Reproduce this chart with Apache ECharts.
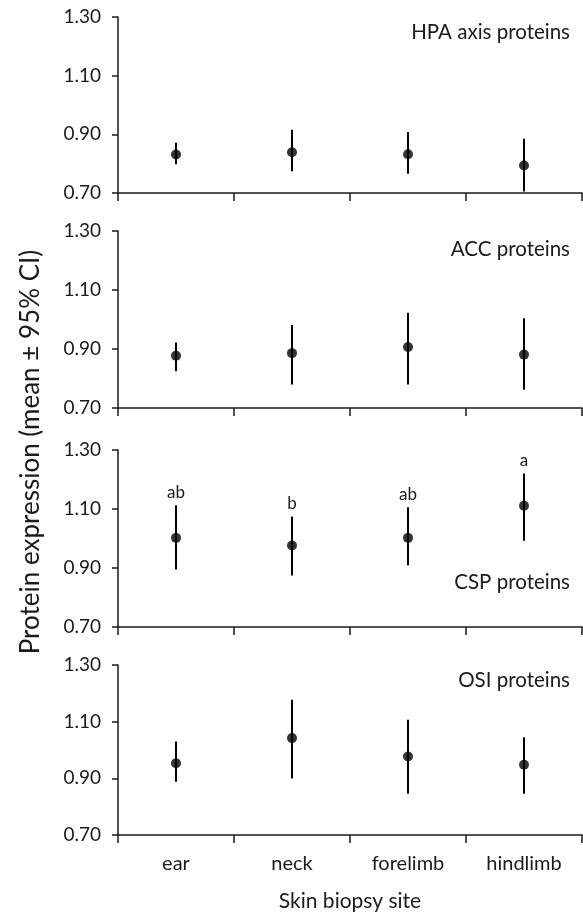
<!DOCTYPE html>
<html>
<head>
<meta charset="utf-8">
<script src="https://cdn.jsdelivr.net/npm/echarts@6/dist/echarts.min.js"></script>
<style>
html, body { margin: 0; padding: 0; background: #fff; }
#main { width: 583px; height: 913px; }
</style>
</head>
<body>
<div id="main"></div>
<script>
// sites on the x axis
var sites = ['ear', 'neck', 'forelimb', 'hindlimb'];
var yTicks = [0.70, 0.90, 1.10, 1.30];

// HPA axis proteins
var hpaMean = [0.831, 0.839, 0.832, 0.794];
var hpaLow = [0.798, 0.774, 0.766, 0.705];
var hpaHigh = [0.871, 0.916, 0.908, 0.885];
// ACC proteins
var accMean = [0.877, 0.886, 0.907, 0.881];
var accLow = [0.825, 0.780, 0.780, 0.762];
var accHigh = [0.922, 0.981, 1.023, 1.004];
// CSP proteins
var cspMean = [1.002, 0.976, 1.002, 1.111];
var cspLow = [0.895, 0.875, 0.909, 0.992];
var cspHigh = [1.113, 1.075, 1.106, 1.220];
var cspLetters = ['ab', 'b', 'ab', 'a'];
// OSI proteins
var osiMean = [0.953, 1.042, 0.977, 0.948];
var osiLow = [0.888, 0.899, 0.846, 0.846];
var osiHigh = [1.030, 1.177, 1.107, 1.045];

var panelNames = ['HPA axis proteins', 'ACC proteins', 'CSP proteins', 'OSI proteins'];
var panels = [
    {mean: hpaMean, low: hpaLow, high: hpaHigh, letters: null},
    {mean: accMean, low: accLow, high: accHigh, letters: null},
    {mean: cspMean, low: cspLow, high: cspHigh, letters: cspLetters},
    {mean: osiMean, low: osiLow, high: osiHigh, letters: null}
];

var FONT = 'Lato';
var INK = '#1a1a1a';
var gridTops = [17, 231, 450, 665];
var gridHeights = [176, 177, 177, 176];
var titleY = [34, 251, 584, 682];

var chart = echarts.init(document.getElementById('main'));

var grids = [], xAxes = [], yAxes = [], series = [], graphics = [];

for (var i = 0; i < 4; i++) {
    grids.push({left: 118, right: 1, top: gridTops[i], height: gridHeights[i]});
    var last = (i === 3);
    xAxes.push({
        type: 'category',
        gridIndex: i,
        data: sites,
        boundaryGap: true,
        axisLine: {lineStyle: {color: INK, width: 1.5}},
        axisTick: {show: true, length: 8, lineStyle: {color: INK, width: 1.5}},
        axisLabel: {show: last, color: INK, fontFamily: FONT, fontSize: 20, margin: 19},
        splitLine: {show: false},
        name: last ? 'Skin biopsy site' : '',
        nameLocation: 'middle',
        nameGap: 56,
        nameTextStyle: {color: INK, fontFamily: FONT, fontSize: 21}
    });
    yAxes.push({
        type: 'value',
        gridIndex: i,
        min: yTicks[0],
        max: yTicks[yTicks.length - 1],
        interval: 0.2,
        axisLine: {show: true, lineStyle: {color: INK, width: 1.5}},
        axisTick: {show: true, length: 6, lineStyle: {color: INK, width: 1.5}},
        axisLabel: {
            color: INK, fontFamily: FONT, fontSize: 19, margin: 17,
            formatter: function (v) { return v.toFixed(2); }
        },
        splitLine: {show: false}
    });

    var p = panels[i];
    var barData = [];
    for (var j = 0; j < sites.length; j++) {
        barData.push([j, p.low[j], p.high[j], p.letters ? p.letters[j] : '']);
    }
    // 95% CI bars (and letters above them)
    series.push({
        type: 'custom',
        xAxisIndex: i,
        yAxisIndex: i,
        data: barData,
        renderItem: function (params, api) {
            var lo = api.coord([api.value(0), api.value(1)]);
            var hi = api.coord([api.value(0), api.value(2)]);
            var letter = api.value(3);
            var children = [{
                type: 'line',
                shape: {x1: hi[0], y1: lo[1], x2: hi[0], y2: hi[1]},
                style: {stroke: '#000', lineWidth: 2}
            }];
            if (letter) {
                children.push({
                    type: 'text',
                    style: {
                        text: letter, x: hi[0], y: hi[1] - 13,
                        align: 'center', verticalAlign: 'middle',
                        fill: INK, font: '17px ' + FONT
                    }
                });
            }
            return {type: 'group', children: children};
        },
        z: 2
    });
    // means
    series.push({
        type: 'scatter',
        xAxisIndex: i,
        yAxisIndex: i,
        data: p.mean,
        symbol: 'circle',
        symbolSize: 10,
        itemStyle: {color: '#000'},
        z: 3
    });

    graphics.push({
        type: 'text',
        right: 13,
        top: titleY[i] - 12,
        style: {text: panelNames[i], fill: INK, font: '20.5px ' + FONT}
    });
}

// shared y axis title
graphics.push({
    type: 'text',
    x: 31,
    y: 452,
    rotation: Math.PI / 2,
    style: {
        text: 'Protein expression (mean \u00b1 95% CI)',
        fill: INK, font: '26px ' + FONT,
        align: 'center', verticalAlign: 'middle'
    }
});

var option = {
    backgroundColor: '#fff',
    animation: false,
    grid: grids,
    xAxis: xAxes,
    yAxis: yAxes,
    series: series,
    graphic: graphics
};

chart.setOption(option);
</script>
</body>
</html>
